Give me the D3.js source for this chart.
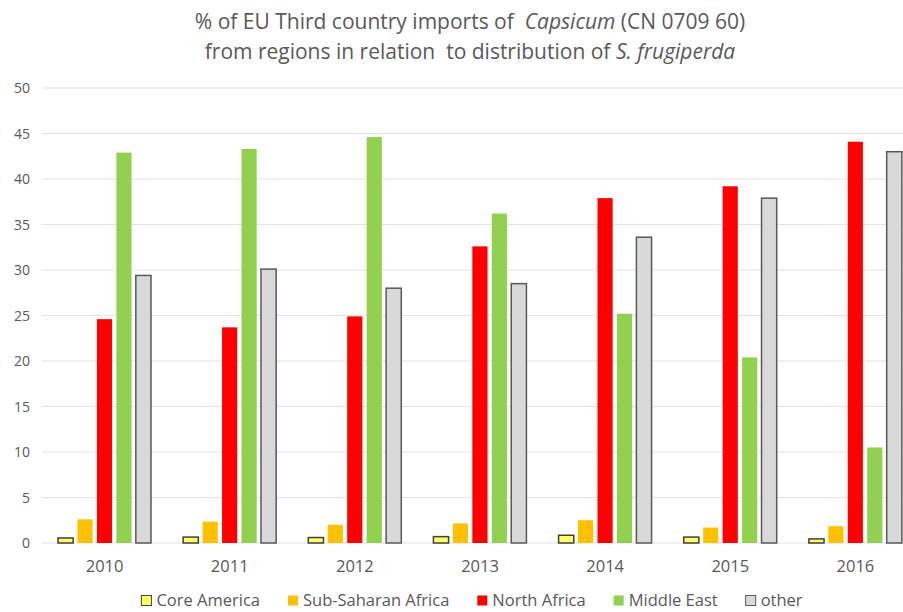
<!DOCTYPE html>
<html>
<head>
<meta charset="utf-8">
<script src="https://cdn.jsdelivr.net/npm/d3@7"></script>
<style>
  body { margin: 0; background: #fff; }
  text { font-family: "Open Sans", sans-serif; fill: #595959; }
</style>
</head>
<body>
<div id="chart"></div>
<script>
// data
var years = ["2010", "2011", "2012", "2013", "2014", "2015", "2016"];
var seriesNames = ["Core America", "Sub-Saharan Africa", "North Africa", "Middle East", "other"];
var coreAmerica = [0.55, 0.65, 0.6, 0.7, 0.85, 0.65, 0.45];
var subSaharan = [2.6, 2.35, 2.0, 2.15, 2.5, 1.7, 1.85];
var northAfrica = [24.6, 23.7, 24.9, 32.6, 37.9, 39.2, 44.1];
var middleEast = [42.9, 43.3, 44.6, 36.2, 25.2, 20.4, 10.5];
var other = [29.4, 30.1, 28.0, 28.5, 33.6, 37.9, 43.0];
var yTicks = [0, 5, 10, 15, 20, 25, 30, 35, 40, 45, 50];

var fills = ["#FFFF66", "#FFC000", "#FF0000", "#92D050", "#D9D9D9"];
var strokes = ["#404040", "none", "none", "none", "#595959"];

var values = [coreAmerica, subSaharan, northAfrica, middleEast, other];
var table = years.map(function (y, i) {
  return { year: y, vals: values.map(function (s, j) { return { key: j, v: s[i] }; }) };
});

var width = 903, height = 612;
var svg = d3.select("#chart").append("svg").attr("width", width).attr("height", height);

// the plot runs past the right edge in the reference, so the range does too
var x0 = d3.scaleBand().domain(years).range([42, 918]);
var x1 = d3.scaleBand().domain(d3.range(5)).range([16, 109]).paddingInner(0.22);
var y = d3.scaleLinear().domain([0, 50]).range([543, 88]);

//Grid
svg.append("g").selectAll("line").data(yTicks).enter().append("line")
  .attr("x1", 42).attr("x2", width)
  .attr("y1", function (d) { return y(d); }).attr("y2", function (d) { return y(d); })
  .attr("stroke", "#E3E3E3").attr("stroke-width", 1);

//Y axis
var yAxis = svg.append("g").attr("transform", "translate(30,0)")
  .call(d3.axisLeft(y).tickValues(yTicks).tickSize(0).tickPadding(0));
yAxis.select(".domain").remove();
yAxis.selectAll("text").attr("font-size", 14).attr("font-family", null).attr("fill", "#595959").attr("dy", "0.35em");

//X axis
var xAxis = svg.append("g").attr("transform", "translate(0,543)")
  .call(d3.axisBottom(x0).tickSize(0).tickPadding(17));
xAxis.select(".domain").remove();
xAxis.selectAll("text").attr("font-size", 16.5).attr("font-family", null).attr("fill", "#595959");

//Bars
var groups = svg.append("g").selectAll("g").data(table).enter().append("g")
  .attr("transform", function (d) { return "translate(" + x0(d.year) + ",0)"; });

groups.selectAll("rect").data(function (d) { return d.vals; }).enter().append("rect")
  .attr("x", function (d) { return x1(d.key); })
  .attr("width", x1.bandwidth())
  .attr("y", function (d) { return y(d.v); })
  .attr("height", function (d) { return y(0) - y(d.v); })
  .attr("fill", function (d) { return fills[d.key]; })
  .attr("stroke", function (d) { return strokes[d.key]; })
  .attr("stroke-width", 1.5);

//Title
var title = svg.append("text").attr("x", 470).attr("text-anchor", "middle").attr("font-size", 21);
title.append("tspan").attr("x", 470).attr("y", 29).text("% of EU Third country imports of  ");
title.append("tspan").attr("font-style", "italic").text("Capsicum");
title.append("tspan").text(" (CN 0709 60)");
title.append("tspan").attr("x", 470).attr("y", 59).text("from regions in relation  to distribution of ");
title.append("tspan").attr("font-style", "italic").text("S. frugiperda");
svg.selectAll("tspan").style("white-space", "pre");

//Legend (kept just inside the bottom edge)
var legend = svg.append("g");
var lx = 0;
seriesNames.forEach(function (name, i) {
  var item = legend.append("g").attr("transform", "translate(" + lx + ",0)");
  item.append("rect").attr("x", 0).attr("y", 595.5).attr("width", 10).attr("height", 10)
    .attr("fill", fills[i]).attr("stroke", strokes[i]).attr("stroke-width", 1);
  var t = item.append("text").attr("x", 15).attr("y", 606).attr("font-size", 16.5).text(name);
  lx += 15 + t.node().getComputedTextLength() + 28;
});
var legendWidth = lx - 28;
legend.attr("transform", "translate(" + (472 - legendWidth / 2) + ",0)");
</script>
</body>
</html>
